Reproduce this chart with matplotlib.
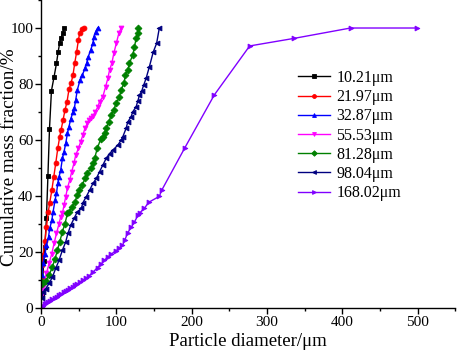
import matplotlib
matplotlib.use("Agg")
import matplotlib.pyplot as plt
from matplotlib.ticker import MultipleLocator

plt.rcParams['font.family'] = ['Liberation Serif', 'DejaVu Serif']
plt.rcParams['mathtext.fontset'] = 'stix'

labels = ["10.21μm", "21.97μm", "32.87μm", "55.53μm", "81.28μm", "98.04μm", "168.02μm"]
colors = ["#000000", "#FF0000", "#0000FF", "#FF00FF", "#008000", "#000080", "#8000FF"]
markers = ["s", "o", "^", "v", "D", "<", ">"]

x_1021 = [0.8, 2.0, 3.5, 5.0, 7.0, 9.0, 11.1, 13.7, 17.2, 20.4, 22.5, 24.7, 26.0, 28.7, 31.0]
y_1021 = [5, 10, 17, 22, 32, 47, 64, 77.6, 82.6, 87.4, 91.3, 94.8, 96.3, 98.1, 100]

x_2197 = [0.5, 1.0, 2.7, 5.0, 7.1, 9.5, 11.5, 14.2, 16.8, 19.4, 22.1, 24.7, 26.5, 29.0, 31.7,
          34.4, 37.0, 39.7, 42.3, 44.6, 47.2, 49.5, 51.2, 53.8, 56.9]
y_2197 = [10, 15.4, 19, 24, 29, 34.4, 37.7, 42.1, 46.9, 51.7, 57, 61.2, 63.6, 67, 70.7,
          73.7, 78.1, 80.2, 83.2, 87.4, 91.5, 95.7, 98.1, 99.5, 100]

x_3287 = [1.0, 2.6, 5.3, 7.1, 9.8, 11.5, 14.2, 15.9, 18.5, 20.4, 22.1, 23.8, 26.0, 28.3, 30.4,
          32.7, 34.9, 37.0, 39.3, 42.3, 44.2, 45.9, 48.1, 51.6, 54.8, 58.2, 60.4, 62.7, 65.7,
          68.8, 70.1, 72.4, 75.0]
y_3287 = [12, 16, 19.5, 22.5, 25.5, 28.5, 31.4, 34.4, 38.6, 41, 44.5, 46.9, 49.3, 53.5, 55.8,
          58.8, 62.4, 64.8, 67.5, 70.0, 71.5, 74.3, 77.9, 81.4, 83.2, 85.6, 87.4, 89.8, 92.1,
          94.5, 96.9, 98.7, 100]

x_5553 = [1.0, 3.0, 4.5, 7.1, 10.6, 14.2, 17.2, 20.4, 23.8, 26.0, 28.3, 30.4, 32.7, 34.9, 38.0,
          40.6, 43.6, 45.9, 49.5, 52.5, 55.5, 58.2, 61.4, 63.5, 66.0, 68.8, 72.0, 75.4, 77.6,
          82.0, 85.6, 88.6, 90.9, 93.9, 96.6, 100.1, 103.2, 106.3]
y_5553 = [5, 7.5, 9.4, 12.4, 16, 19.5, 23.1, 26.7, 30.2, 32.6, 33.8, 36.8, 39.8, 42.8, 45.7,
          48.7, 51.7, 54.6, 57, 59.4, 61.8, 64.2, 66.0, 67.2, 67.9, 68.6, 70.1, 71.9, 73.7,
          75.5, 79, 82, 85, 87.4, 91, 94.8, 98.1, 100]

x_8128 = [0.9, 1.8, 6.2, 10.6, 15.1, 18.5, 21.7, 24.7, 28.3, 31.7, 34.9, 37.0, 41.5, 45.0,
          48.1, 50.3, 54.8, 58.2, 61.4, 65.7, 68.8, 71.0, 74.6, 79.0, 82.0, 84.3, 86.5, 90.0,
          93.1, 96.2, 99.7, 104.1, 106.3, 109.8, 112.0, 115.1, 117.3, 121.7, 124.0, 126.2,
          128.3, 129.2]
y_8128 = [8.5, 9.4, 9.8, 11.8, 14.8, 17.7, 20.7, 23.7, 27.3, 30.2, 33.8, 34.4, 36.2, 38.0,
          40.4, 42.1, 43.9, 46.3, 48.1, 49.9, 51.7, 53.5, 57.0, 60.3, 61.2, 62.4, 64.2, 66.5,
          68.9, 70.7, 73.1, 75.5, 77.9, 80.2, 83.2, 85.0, 87.4, 90.4, 93.3, 96.3, 98.3, 100]

x_9804 = [0.8, 2.6, 6.2, 10.6, 15.1, 19.4, 23.8, 28.3, 32.7, 35.6, 39.3, 43.7, 48.1, 53.4,
          55.6, 60.0, 64.4, 68.8, 73.3, 77.6, 82.0, 86.5, 90.9, 95.2, 101.9, 106.3, 108.5,
          112.9, 115.1, 119.5, 121.7, 126.2, 128.5, 130.6, 133.6, 136.2, 139.4, 143.8,
          149.0, 153.4, 157.0]
y_9804 = [3.5, 5.8, 7.0, 8.8, 11.2, 14.2, 17.1, 20.7, 23.7, 26.7, 29.6, 32.0, 34.4, 35.6,
          37.7, 39.8, 42.1, 44.5, 46.3, 48.7, 51.1, 53.5, 55.2, 56.4, 58.2, 60.0, 61.2,
          64.2, 66.5, 68.3, 70.1, 71.9, 74.0, 76.0, 77.5, 79.6, 82.0, 86.2, 91.5, 94.5, 100]

x_16802 = [1, 3, 5, 7, 9, 12, 15, 18, 21, 24, 27, 30, 33, 36, 39, 42, 45, 48, 52, 56, 60,
           64, 69, 75, 80, 84, 89, 93, 99, 104, 108, 111, 115, 120, 124, 129, 131, 137, 143,
           157, 160, 191, 230, 277, 336, 411, 499]
y_16802 = [0.3, 0.8, 1.3, 1.7, 2.1, 2.6, 3.1, 3.6, 4.1, 4.6, 5.1, 5.6, 6.1, 6.6, 7.1, 7.6,
           8.1, 8.6, 9.3, 10.0, 10.8, 11.6, 12.9, 14.5, 15.8, 17.1, 18.3, 19.3, 20.4, 21.3,
           22.4, 24.2, 26.9, 29.0, 30.8, 33.3, 34.0, 35.6, 37.8, 39.9, 42.0, 57.3, 76.1,
           93.6, 96.3, 100, 100]

series = [(x_1021, y_1021), (x_2197, y_2197), (x_3287, y_3287), (x_5553, y_5553),
          (x_8128, y_8128), (x_9804, y_9804), (x_16802, y_16802)]

fig = plt.figure(figsize=(4.57, 3.55), dpi=100)
ax = fig.add_axes([0.090, 0.132, 0.906, 0.868])

for (xs, ys), lab, c, m in zip(series, labels, colors, markers):
    ax.plot(xs, ys, color=c, marker=m, markersize=3.5, linewidth=1.0, label=lab,
            markeredgewidth=0.6)

ax.set_xlim(0, 550)
ax.set_ylim(0, 110)
ax.xaxis.set_major_locator(MultipleLocator(100))
ax.xaxis.set_minor_locator(MultipleLocator(50))
ax.yaxis.set_minor_locator(MultipleLocator(10))
ax.set_yticks([0, 20, 40, 60, 80, 100])
ax.tick_params(which='major', direction='out', length=4, width=1, labelsize=11, pad=1.5)
ax.tick_params(which='minor', direction='out', length=2.5, width=1)
ax.spines['top'].set_visible(False)
ax.spines['right'].set_visible(False)
ax.spines['left'].set_linewidth(1)
ax.spines['bottom'].set_linewidth(1)

ax.set_xlabel("Particle diameter/μm", fontsize=13.5, labelpad=3)
ax.set_ylabel("Cumulative mass fraction/%", fontsize=13.8)
ax.yaxis.set_label_coords(18.5 / 457, 1 - 157 / 355, transform=fig.transFigure)

leg = ax.legend(loc='upper left', bbox_to_anchor=(298 / 457, 1 - 70 / 355),
                bbox_transform=fig.transFigure, frameon=False, fontsize=11.5,
                handlelength=2.0, handletextpad=0.4, labelspacing=0.2,
                borderaxespad=0, borderpad=0, markerscale=0.8)

fig.savefig("out.png", dpi=100)
